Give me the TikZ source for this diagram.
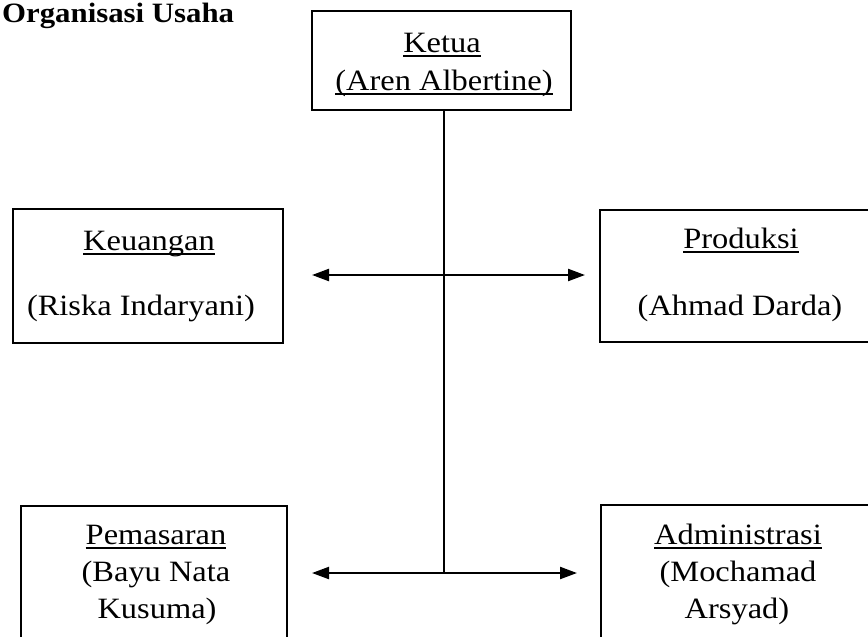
\documentclass[tikz,border=0pt]{standalone}
\usepackage{fontspec}
\setmainfont{Liberation Serif}[FakeStretch=1.1]
\usetikzlibrary{arrows.meta}
\newsavebox\ulbox
\newcommand\ulx[1]{\sbox\ulbox{#1}\rlap{\rule[-4.5pt]{\wd\ulbox}{2pt}}\usebox\ulbox}
\begin{document}
\begin{tikzpicture}[x=1pt,y=-1pt,
  box/.style={draw, line width=2.4pt, inner sep=0pt, outer sep=0pt},
  txt/.style={inner sep=0pt, anchor=base, font=\fontsize{29.5}{37}\selectfont},
  link/.style={line width=2.2pt},
  arr/.style={link, {Triangle[length=17pt,width=12pt]}-{Triangle[length=17pt,width=12pt]}}]
\useasboundingbox (0,0) rectangle (868,637);
\clip (0,0) rectangle (868,637);

\node[inner sep=0pt, anchor=base west, font=\bfseries\fontsize{28}{34}\selectfont] (title) at (2,23) {Organisasi Usaha};

% boxes
\node[box, minimum width=259pt, minimum height=99pt] (ketua) at (441.5,60.5) {};
\node[box, minimum width=270pt, minimum height=134pt] (keu) at (148,276) {};
\node[box, minimum width=280pt, minimum height=132pt] (pro) at (740,276) {};
\node[box, minimum width=266pt, minimum height=174pt] (pem) at (154,593) {};
\node[box, minimum width=280pt, minimum height=175pt] (adm) at (741,592.5) {};

% texts
\node[txt] (ketua1) at (442,52) {\ulx{Ketua}};
\node[txt] (ketua2) at (444,90) {\ulx{(Aren Albertine)}};
\node[txt] (keu1) at (149,250) {\ulx{Keuangan}};
\node[txt] (keu2) at (141,315) {(Riska Indaryani)};
\node[txt] (pro1) at (741,248) {\ulx{Produksi}};
\node[txt] (pro2) at (740,315) {(Ahmad Darda)};
\node[txt] (pem1) at (156,544) {\ulx{Pemasaran}};
\node[txt] (pem2) at (156,581) {(Bayu Nata};
\node[txt] (pem3) at (157,618) {Kusuma)};
\node[txt] (adm1) at (738,544) {\ulx{Administrasi}};
\node[txt] (adm2) at (738,581) {(Mochamad};
\node[txt] (adm3) at (737,618) {Arsyad)};

% connectors
\coordinate (jt) at (444,275);
\coordinate (jb) at (444,573);
\coordinate (aKeu) at (312,275);
\coordinate (aPro) at (585,275);
\coordinate (aPem) at (312,573);
\coordinate (aAdm) at (577,573);
\draw[link] (ketua.south -| jb) -- (jb);
\draw[arr] (aKeu) -- (aPro);
\draw[arr] (aPem) -- (aAdm);
\end{tikzpicture}
\end{document}
